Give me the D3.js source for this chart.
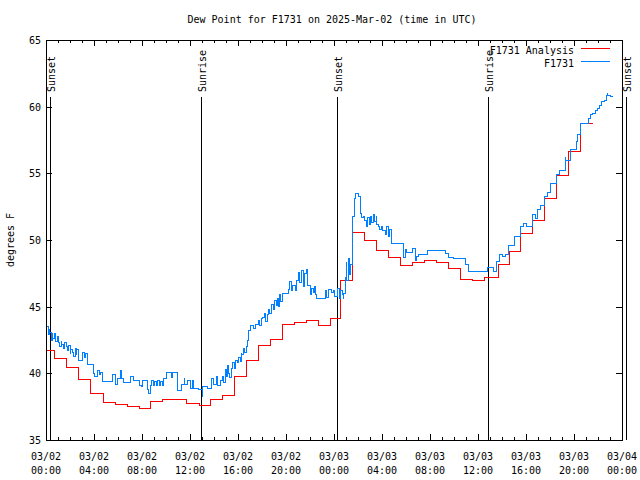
<!DOCTYPE html>
<html>
<head>
<meta charset="utf-8">
<script src="https://cdn.jsdelivr.net/npm/d3@7"></script>
<style>
  body { margin: 0; background: #fff; }
  svg { display: block; }
  text { font-family: "DejaVu Sans Mono", "Liberation Mono", monospace; font-size: 10px; fill: #000; }
</style>
</head>
<body>
<svg id="chart" width="640" height="480"></svg>
<script>
// ---------------- data ----------------
const titleText = "Dew Point for F1731 on 2025-Mar-02 (time in UTC)";
const yLabelText = "degrees F";
const seriesNames = ["F1731 Analysis", "F1731"];

// x tick labels (every 4 hours, hours since 03/02 00:00 UTC)
const xTickHours = [0, 4, 8, 12, 16, 20, 24, 28, 32, 36, 40, 44, 48];
const xTickDates = ["03/02","03/02","03/02","03/02","03/02","03/02","03/03","03/03","03/03","03/03","03/03","03/03","03/04"];
const xTickTimes = ["00:00","04:00","08:00","12:00","16:00","20:00","00:00","04:00","08:00","12:00","16:00","20:00","00:00"];
const yTicks = [35, 40, 45, 50, 55, 60, 65];

// sunrise / sunset markers (hours since start)
const sunLabels = ["Sunset", "Sunrise", "Sunset", "Sunrise", "Sunset"];
const sunHours  = [0.33, 12.94, 24.25, 36.86, 48.33];

// F1731 Analysis (hourly, step)
const analysisHours = [-0.25,0.67,1.72,2.72,3.72,4.78,5.83,6.78,7.83,8.72,9.72,11.72,12.78,13.72,14.72,15.72,16.72,17.72,18.72,19.72,20.72,21.72,22.72,23.72,24.5,25.56,26.56,27.56,28.56,29.56,30.56,31.56,32.56,33.56,34.5,35.56,36.56,37.67,38.6,39.56,40.56,41.56,42.56,43.56,44.56,45.6];
const analysisValues = [41.73,41.1,40.45,39.55,38.5,37.83,37.67,37.52,37.37,37.9,38.05,37.75,37.6,38.05,38.35,39.8,41.0,42.1,42.55,43.68,43.83,43.93,43.6,44.13,46.93,50.55,49.98,49.2,48.7,48.1,48.35,48.43,48.28,47.9,47.05,47.0,47.22,48.18,49.15,50.5,51.5,53.08,54.82,56.62,58.75,58.75];

// F1731 observations
const obsHours = [0.00,0.08,0.17,0.25,0.33,0.42,0.50,0.58,0.71,0.83,0.92,1.00,1.13,1.25,1.33,1.46,1.58,1.67,1.75,1.88,2.00,2.08,2.17,2.29,2.42,2.50,2.58,2.67,3.08,3.21,3.29,3.42,3.92,4.08,4.25,4.42,4.54,4.67,5.58,5.75,5.92,6.17,6.25,6.42,7.00,7.25,7.83,7.96,8.08,8.42,8.54,8.67,8.79,8.92,9.04,9.17,9.33,9.42,9.58,9.67,9.75,10.08,10.42,10.50,10.92,11.25,11.50,11.58,11.83,12.00,12.17,12.25,12.67,13.00,13.08,13.42,13.83,13.92,14.17,14.25,14.50,14.67,14.83,14.92,15.04,15.13,15.17,15.33,15.46,15.58,15.71,15.79,15.92,16.04,16.17,16.25,16.33,16.46,16.58,16.67,16.75,16.88,17.00,17.25,17.42,17.67,17.83,17.96,18.08,18.21,18.33,18.42,18.50,18.63,18.75,18.83,18.96,19.08,19.17,19.25,19.38,19.46,19.58,19.67,20.17,20.29,20.42,20.58,20.75,20.88,21.00,21.13,21.25,21.33,21.42,21.50,21.58,21.67,21.75,21.83,22.00,22.13,22.25,22.38,22.46,22.58,23.25,23.38,23.50,23.75,23.92,24.08,24.25,24.42,24.50,24.67,24.75,24.83,24.92,25.00,25.08,25.17,25.29,25.38,25.50,25.58,25.71,25.83,26.00,26.17,26.29,26.42,26.54,26.67,26.79,26.92,27.00,27.13,27.25,27.38,27.50,27.58,27.71,27.83,27.96,28.08,28.25,28.38,28.50,28.63,28.75,28.83,29.75,29.92,30.08,30.58,30.75,30.88,31.00,31.75,33.25,33.58,33.92,34.92,35.17,36.83,37.25,37.58,37.83,38.08,38.25,38.58,39.08,39.50,39.75,40.00,40.50,40.75,40.92,41.17,41.58,41.75,42.00,42.58,42.75,43.25,43.33,43.67,44.17,44.33,44.58,45.17,45.38,45.58,45.75,45.92,46.13,46.33,46.50,46.67,46.75,46.83,47.00,47.25];
const obsValues = [42.8,43.5,42.9,43.3,43.1,42.5,43.0,42.6,43.0,42.4,42.8,42.3,42.0,42.4,42.2,41.9,42.3,42.0,41.7,42.1,41.5,41.8,41.6,41.3,41.9,41.4,41.8,41.0,41.6,41.2,41.5,40.7,40.0,39.75,40.2,39.9,40.1,39.4,39.9,39.2,39.6,40.2,39.6,39.3,39.8,39.5,39.1,39.0,39.5,38.8,38.5,39.1,39.5,39.1,39.4,39.1,39.5,39.1,39.4,39.1,39.6,40.1,39.7,40.1,38.7,39.2,39.6,39.2,39.5,38.9,39.5,38.9,38.8,38.25,39.0,38.9,39.6,39.2,39.8,39.1,39.5,39.75,39.3,40.3,39.8,40.6,40.0,39.7,40.4,40.8,40.4,41.0,40.8,41.2,40.9,41.5,41.4,41.9,41.6,42.0,42.5,43.2,43.6,43.4,43.7,44.0,43.6,44.1,44.2,44.5,43.9,44.4,44.8,44.5,45.0,45.2,44.8,45.5,45.1,45.6,45.0,45.9,45.4,46.0,46.3,46.9,46.2,46.6,46.2,47.0,47.6,46.8,47.3,47.7,46.5,47.2,47.5,47.8,46.9,46.6,45.9,46.4,46.1,46.5,45.9,45.6,46.2,45.7,46.3,46.1,46.2,45.8,46.4,45.65,46.2,45.9,45.6,46.0,47.2,48.3,47.0,48.6,47.4,48.2,49.8,51.8,53.1,53.5,53.3,52.0,51.7,51.8,51.5,51.0,51.7,51.2,51.8,51.3,51.9,51.4,51.8,51.2,51.0,50.8,51.0,50.7,50.4,51.0,50.3,50.8,50.2,49.75,48.7,49.3,49.1,49.4,48.5,48.8,48.9,49.2,49.0,48.7,48.6,48.2,47.65,47.95,47.65,48.4,48.95,48.75,48.95,49.6,50.3,51.0,51.25,51.0,51.95,51.6,52.3,52.6,53.3,53.6,54.25,54.9,55.25,56.2,55.95,56.8,57.4,57.9,58.75,59.1,59.4,59.5,59.75,59.9,60.1,60.4,60.5,60.85,61.0,60.85,60.75,60.75];

// ---------------- chart ----------------
const svg = d3.select("#chart");
const L = 46, R = 622, T = 40, B = 440;
const x = d3.scaleLinear().domain([0, 48]).range([L, R]);
const y = d3.scaleLinear().domain([35, 65]).range([B, T]);
const red = "#ff0000", blue = "#0080ff";

svg.append("rect").attr("width", 640).attr("height", 480).attr("fill", "#fff");

svg.append("defs").append("clipPath").attr("id", "clip")
  .append("rect").attr("x", L).attr("y", T).attr("width", R - L).attr("height", B - T);

// title
svg.append("text").attr("x", 332).attr("y", 23).attr("text-anchor", "middle").text(titleText);

// y label
svg.append("text").attr("transform", "translate(14,240) rotate(-90)")
  .attr("text-anchor", "middle").text(yLabelText);

// axes with inward ticks
const minorHours = d3.range(0, 49, 1);
const gx = svg.append("g").attr("shape-rendering", "crispEdges");
minorHours.forEach(h => {
  const major = h % 4 === 0;
  const len = major ? 6 : 3;
  const px = Math.round(x(h)) + 0.5;
  gx.append("line").attr("x1", px).attr("x2", px).attr("y1", B).attr("y2", B - len).attr("stroke", "#000");
  gx.append("line").attr("x1", px).attr("x2", px).attr("y1", T).attr("y2", T + len).attr("stroke", "#000");
});
yTicks.forEach(v => {
  const py = Math.round(y(v)) + 0.5;
  gx.append("line").attr("x1", L).attr("x2", L + 6).attr("y1", py).attr("y2", py).attr("stroke", "#000");
  gx.append("line").attr("x1", R).attr("x2", R - 6).attr("y1", py).attr("y2", py).attr("stroke", "#000");
});

// tick labels
xTickHours.forEach((h, i) => {
  svg.append("text").attr("x", x(h)).attr("y", 460).attr("text-anchor", "middle").text(xTickDates[i]);
  svg.append("text").attr("x", x(h)).attr("y", 474).attr("text-anchor", "middle").text(xTickTimes[i]);
});
yTicks.forEach(v => {
  svg.append("text").attr("x", 41).attr("y", y(v) + 4).attr("text-anchor", "end").text(v);
});

// sunrise/sunset markers
sunHours.forEach((h, i) => {
  const px = Math.round(x(h)) + 0.5;
  svg.append("line").attr("x1", px).attr("x2", px).attr("y1", 97).attr("y2", B)
    .attr("stroke", "#000").attr("shape-rendering", "crispEdges");
  svg.append("text").attr("transform", `translate(${px + 4},92) rotate(-90)`)
    .attr("text-anchor", "start").text(sunLabels[i]);
});

// series
const line = d3.line().x(d => x(d[0])).y(d => y(d[1])).curve(d3.curveStepAfter);
const analysis = analysisHours.map((h, i) => [h, analysisValues[i]]);
const obs = obsHours.map((h, i) => [h, obsValues[i]]);

const plot = svg.append("g").attr("clip-path", "url(#clip)");
plot.append("path").datum(analysis).attr("d", line).attr("fill", "none")
  .attr("stroke", red).attr("stroke-width", 1).attr("shape-rendering", "crispEdges");
plot.append("path").datum(obs).attr("d", line).attr("fill", "none")
  .attr("stroke", blue).attr("stroke-width", 1).attr("shape-rendering", "crispEdges");

// border
svg.append("rect").attr("x", L + 0.5).attr("y", T + 0.5).attr("width", R - L).attr("height", B - T)
  .attr("fill", "none").attr("stroke", "#000").attr("shape-rendering", "crispEdges");

// legend
const legend = svg.append("g");
[[seriesNames[0], red, 50], [seriesNames[1], blue, 63]].forEach(([name, col, ly]) => {
  legend.append("text").attr("x", 574).attr("y", ly + 4).attr("text-anchor", "end").text(name);
  legend.append("line").attr("x1", 581).attr("x2", 610).attr("y1", ly - 1.5).attr("y2", ly - 1.5)
    .attr("stroke", col).attr("stroke-width", 1).attr("shape-rendering", "crispEdges");
});
</script>
</body>
</html>
